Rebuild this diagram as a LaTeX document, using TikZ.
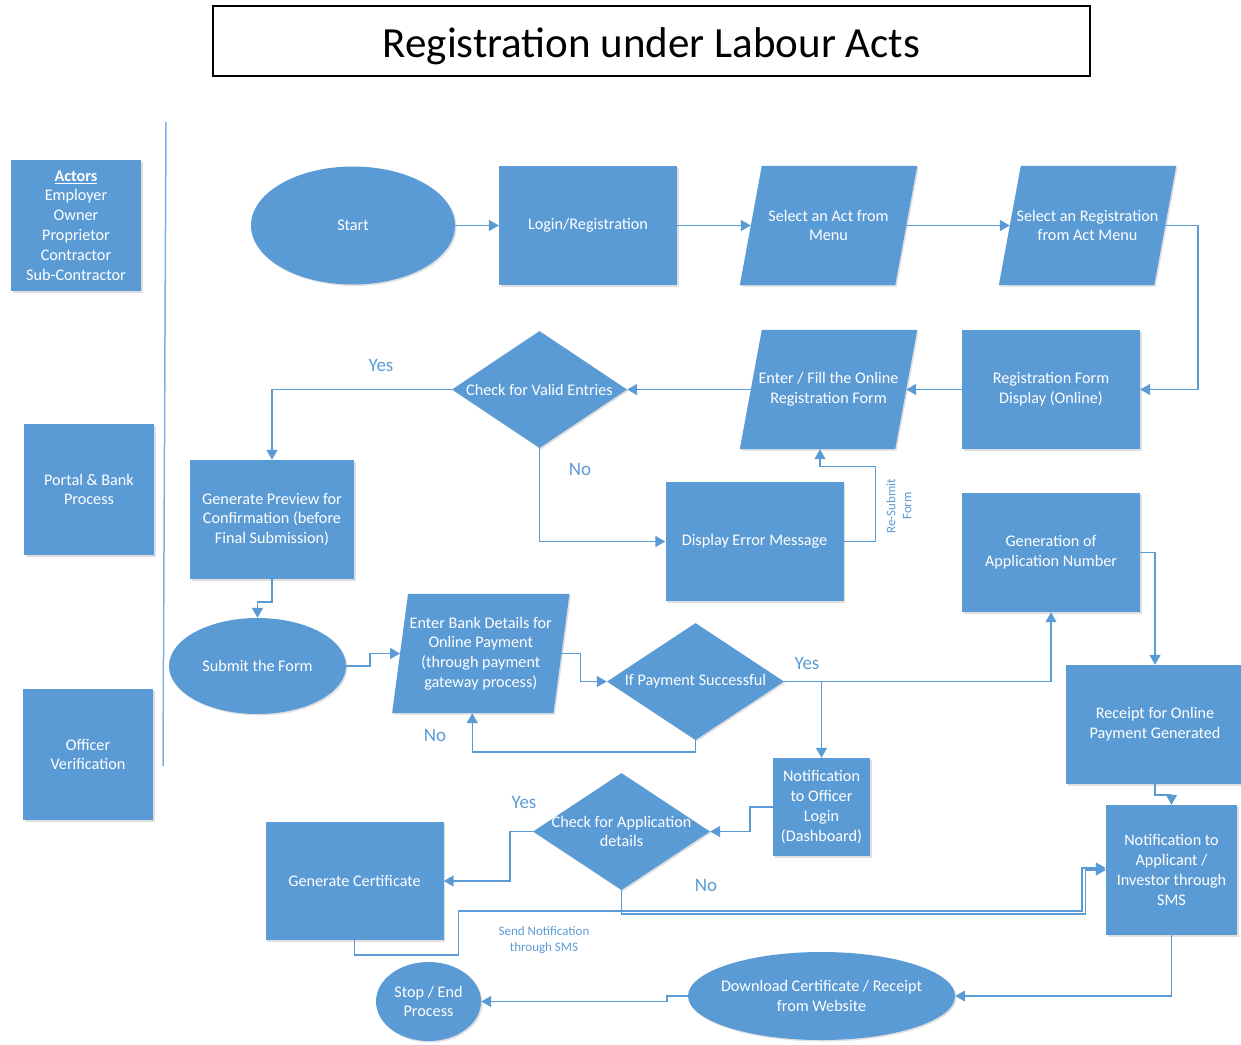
\documentclass[tikz,border=0pt]{standalone}
\usepackage{fontspec}
\setmainfont{Carlito}
\usetikzlibrary{shapes.geometric,arrows.meta,shadows,backgrounds}
\definecolor{flowblue}{HTML}{5B9BD5}
% slanted box drawn behind a text node
\newcommand\parafill[2]{\fill[flowblue,softshadow] ([xshift=-#2pt]#1.south west) -- ([xshift=-#2pt]#1.south east) -- ([xshift=#2pt]#1.north east) -- ([xshift=#2pt]#1.north west) -- cycle;}
\begin{document}
\begin{tikzpicture}[
        x=1pt, y=-1pt,
        softshadow/.style={drop shadow={opacity=0.25, shadow xshift=1.5pt, shadow yshift=-1.5pt}},
        boxtext/.style={text=white, align=center, inner sep=2pt, font=\fontsize{16.2}{19.8}\selectfont},
        titlebox/.style={draw=black, line width=1.8pt, minimum width=877, minimum height=70, text height=40pt, text depth=8pt, font=\fontsize{43}{50}\selectfont},
        stepbox/.style={rectangle, fill=flowblue, boxtext, softshadow, minimum width=178, minimum height=119},
        actor/.style={stepbox, minimum width=130, minimum height=131},
        parabox/.style={rectangle, boxtext, minimum width=155, minimum height=119},
        decision/.style={diamond, fill=flowblue, boxtext, softshadow, inner sep=0pt, minimum width=177, minimum height=117},
        terminal/.style={ellipse, fill=flowblue, boxtext, softshadow},
        answer/.style={text=flowblue, font=\fontsize{19}{23}\selectfont},
        note/.style={text=flowblue, align=center, font=\fontsize{13}{16}\selectfont},
        arr/.style={draw=flowblue, line width=1.5pt, -{Triangle[length=10pt, width=11pt]}},
    ]
    \useasboundingbox (0,0) rectangle (1241,1044);

    \node[titlebox] (title) at (651.5,41) {Registration under Labour Acts};

    \node[actor] (actors) at (76,225.5) {\textbf{\underline{Actors}}\\Employer\\Owner\\Proprietor\\Contractor\\Sub-Contractor};
    \node[actor] (portal) at (89,489.5) {Portal \& Bank\\Process};
    \node[actor] (officer) at (88,754.5) {Officer\\Verification};
    \draw[flowblue!80, line width=1.5pt] (166,122) -- (163,766);

    % row 1
    \node[terminal, minimum width=204, minimum height=118] (start) at (353,225.5) {Start};
    \node[stepbox] (login) at (588,225.5) {Login/Registration};
    \node[parabox] (selact) at (828.5,225.5) {Select an Act from\\Menu};
    \node[parabox] (selreg) at (1087.5,225.5) {Select an Registration\\from Act Menu};

    % row 2
    \node[stepbox] (regform) at (1051,389.5) {Registration Form\\Display (Online)};
    \node[parabox] (fillform) at (828.5,389.5) {Enter / Fill the Online\\Registration Form};
    \node[decision, minimum width=175] (chkvalid) at (539.5,389.5) {\makebox[0pt]{Check for Valid Entries}};
    \node[stepbox, minimum width=164] (preview) at (272,519.5) {Generate Preview for\\Confirmation (before\\Final Submission)};
    \node[stepbox] (errmsg) at (754.5,541.5) {Display Error Message};
    \node[stepbox] (appno) at (1051,552.5) {Generation of\\Application Number};

    % row 3
    \node[terminal, minimum width=177, minimum height=96] (submit) at (257.5,666) {Submit the Form};
    \node[parabox, minimum width=161] (bank) at (480.75,653.5) {Enter Bank Details for\\Online Payment\\(through payment\\gateway process)};
    \node[decision] (paychk) at (695.5,681.5) {\makebox[0pt]{If Payment Successful}};
    \node[stepbox] (receipt) at (1155,724.5) {Receipt for Online\\Payment Generated};

    % row 4
    \node[stepbox, minimum width=97, minimum height=98] (offnotif) at (821.5,807) {Notification\\to Officer\\Login\\(Dashboard)};
    \node[decision] (chkapp) at (621.5,831.5) {\makebox[0pt]{Check for Application}\\\makebox[0pt]{details}};
    \node[stepbox, minimum height=118] (cert) at (354.5,881) {Generate Certificate};
    \node[stepbox, minimum width=131, minimum height=130] (applnotif) at (1171.5,870) {Notification to\\Applicant /\\Investor through\\SMS};

    % row 5
    \node[terminal, minimum width=267, minimum height=88] (download) at (821.5,996) {\makebox[0pt]{Download Certificate / Receipt}\\\makebox[0pt]{from Website}};
    \node[terminal, minimum width=105, minimum height=79] (stop) at (428.5,1001.5) {Stop / End\\Process};

    \begin{scope}[on background layer]
        \parafill{selact}{11}
        \parafill{selreg}{11}
        \parafill{fillform}{11}
        \parafill{bank}{8}
    \end{scope}

    \node[answer] (yes1) at (381,365) {Yes};
    \node[answer] (no1) at (580,469) {No};
    \node[answer] (yes2) at (807,663) {Yes};
    \node[answer] (no2) at (435,735) {No};
    \node[answer] (yes3) at (524,802) {Yes};
    \node[answer] (no3) at (706,885) {No};
    \node[note, rotate=90] (resubmit) at (899,506) {Re-Submit\\Form};
    \node[note] (sendsms) at (544,940) {Send Notification\\through SMS};

    \draw[arr] (start) -- (login);
    \draw[arr] (login) -- (selact);
    \draw[arr] (selact) -- (selreg);
    \draw[arr] (selreg.east) -- ++(33,0) |- (regform.east);
    \draw[arr] (regform) -- (fillform);
    \draw[arr] (fillform.west) -- (chkvalid.east);
    \draw[arr] (chkvalid.west) -| (preview.north);
    \draw[arr] (chkvalid.south) |- (errmsg.west);
    \draw[arr] (errmsg.east) -| ++(32,-75) -| ([xshift=-8.5pt]fillform.south);
    \draw[arr] (preview.south) -- ++(0,23) -| (submit.north);
    \draw[arr] (submit.east) -- ++(24,0) |- (bank.west);
    \draw[arr] (bank.east) -- ++(19,0) |- (paychk.west);
    \draw[arr] (paychk.south) -- ++(0,12) -| ([xshift=-8.5pt]bank.south);
    \draw[arr] (paychk.east) -| (appno.south);
    \draw[arr] (paychk.east -| offnotif.north) -- (offnotif.north);
    \draw[arr] (appno.east) -| (receipt.north);
    \draw[arr] (receipt.south) -- ++(0,11) -| (applnotif.north);
    \draw[arr] (offnotif.west) -- ++(-23,0) |- (chkapp.east);
    \draw[arr] (chkapp.west) -- ++(-23,0) |- (cert.east);
    \draw[arr] (chkapp.south) |- ++(464,24) |- (applnotif.west);
    \draw[arr] (cert.south) -- ++(0,15) -| ++(104,-44) -- ++(623.5,0) |- ([yshift=2pt]applnotif.west);
    \draw[arr] (applnotif.south) |- (download.east);
    \draw[arr] (download.west) -- ++(-21,0) |- (stop.east);
\end{tikzpicture}
\end{document}
